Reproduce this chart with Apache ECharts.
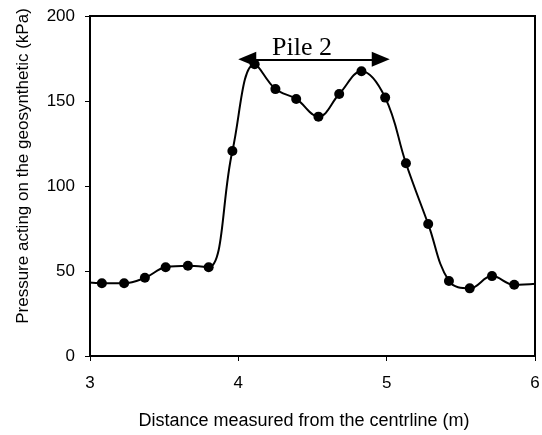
<!DOCTYPE html>
<html>
<head>
<meta charset="utf-8">
<script src="https://cdn.jsdelivr.net/npm/echarts@6/dist/echarts.min.js"></script>
<style>
  html, body { margin: 0; padding: 0; background: #fff; }
  #chart { width: 542px; height: 435px; }
</style>
</head>
<body>
<div id="chart"></div>
<script>
// measured points
const distances = [3.08, 3.23, 3.37, 3.51, 3.66, 3.80, 3.96, 4.11, 4.25, 4.39,
  4.54, 4.68, 4.83, 4.99, 5.13, 5.28, 5.42, 5.56, 5.71, 5.86];
const pressures = [42.8, 42.8, 46.0, 52.2, 53.1, 52.2, 120.6, 171.6, 157.0, 151.2,
  140.8, 154.1, 167.5, 152.0, 113.4, 77.6, 44.1, 39.8, 47.0, 41.9];
// where the fitted curve starts / runs off the plot
const curveStart = [2.97, 43.4];
const curveEnd = [6.05, 42.8];
// pile arrow (arrow-head centres)
const pileSpan = [4.06, 4.96];
const pileLevel = 174.5;
const xTicks = [3, 4, 5, 6];
const yTicks = [0, 50, 100, 150, 200];

const chart = echarts.init(document.getElementById("chart"));

const lineData = [{ value: curveStart, symbol: "none" }]
  .concat(distances.map((d, i) => [d, pressures[i]]))
  .concat([{ value: curveEnd, symbol: "none" }]);

const options = {
  animation: false,
  grid: {
    left: 90,
    right: 7,
    top: 16,
    bottom: 79,
    outerBoundsMode: "none",
    containLabel: false,
    show: true,
    borderColor: "#000",
    borderWidth: 2,
  },
  xAxis: {
    type: "value",
    min: xTicks[0],
    max: xTicks[xTicks.length - 1],
    interval: 1,
    name: "Distance measured from the centrline (m)",
    nameLocation: "middle",
    nameGap: 56,
    nameTextStyle: {
      fontFamily: "Liberation Sans",
      fontSize: 18,
      color: "#000",
      padding: [0, 17, 0, 0],
    },
    axisLine: { lineStyle: { color: "#000", width: 2 } },
    axisTick: { show: true, length: 5, lineStyle: { color: "#000" } },
    axisLabel: { fontFamily: "Liberation Sans", fontSize: 17, color: "#000", margin: 19 },
    splitLine: { show: false },
  },
  yAxis: {
    type: "value",
    min: yTicks[0],
    max: yTicks[yTicks.length - 1],
    interval: 50,
    axisLine: { show: true, lineStyle: { color: "#000", width: 2 } },
    axisTick: { show: true, length: 5, lineStyle: { color: "#000" } },
    axisLabel: { fontFamily: "Liberation Sans", fontSize: 17, color: "#000", margin: 15 },
    splitLine: { show: false },
  },
  graphic: [
    {
      type: "text",
      x: 23,
      y: 166,
      rotation: Math.PI / 2,
      style: {
        text: "Pressure acting on the geosynthetic (kPa)",
        font: "17px 'Liberation Sans'",
        fill: "#000",
        align: "center",
        verticalAlign: "middle",
      },
    },
  ],
  series: [
    {
      type: "line",
      data: lineData,
      smooth: 0.4,
      clip: false,
      symbol: "circle",
      symbolSize: 10,
      lineStyle: { color: "#000", width: 2 },
      itemStyle: { color: "#000" },
      markLine: {
        silent: true,
        symbol: ["triangle", "triangle"],
        symbolSize: [15, 18],
        lineStyle: { color: "#000", width: 2, type: "solid" },
        label: {
          show: true,
          position: "middle",
          formatter: "Pile 2",
          fontFamily: "Liberation Serif",
          fontSize: 26,
          color: "#000",
          distance: 0,
          offset: [-12, 2],
        },
        data: [[
          { coord: [pileSpan[0], pileLevel] },
          { coord: [pileSpan[1], pileLevel] },
        ]],
      },
    },
  ],
};

chart.setOption(options);
</script>
</body>
</html>
